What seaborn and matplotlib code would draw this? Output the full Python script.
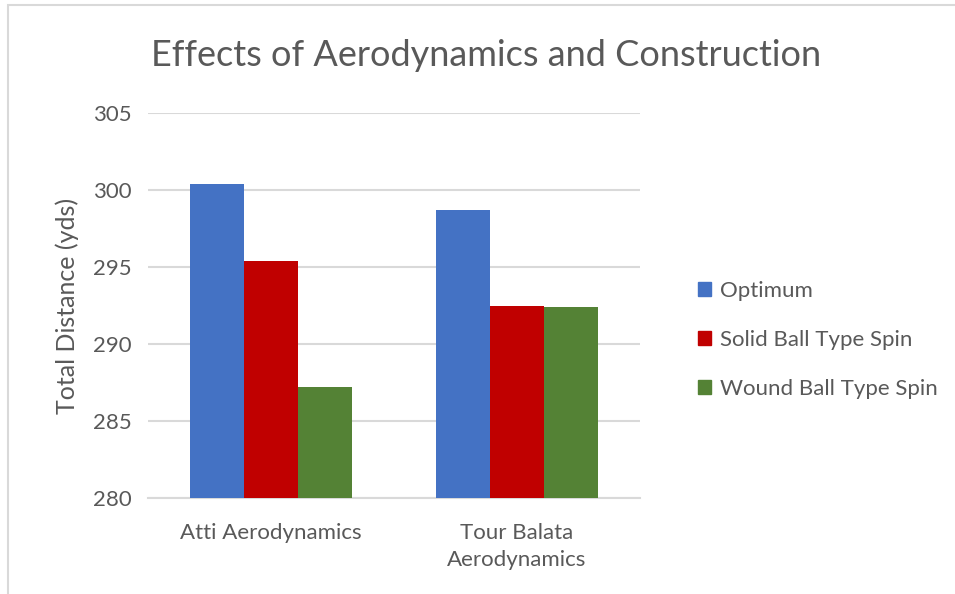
import seaborn as sns
import matplotlib.pyplot as plt
import matplotlib.patches as mpatches
import pandas as pd

categories = ['Atti Aerodynamics', 'Tour Balata\nAerodynamics']
series = ['Optimum', 'Solid Ball Type Spin', 'Wound Ball Type Spin']
optimum = [300.4, 298.7]
solid_spin = [295.4, 292.5]
wound_spin = [287.2, 292.4]
colors = ['#4472c4', '#c00000', '#548235']

rows = []
for name, vals in zip(series, [optimum, solid_spin, wound_spin]):
    for cat, v in zip(categories, vals):
        rows.append({'category': cat, 'series': name, 'distance': v})
df = pd.DataFrame(rows)

sns.set_style('white')
plt.rcParams['font.family'] = ['Lato', 'DejaVu Sans']
gray = '#595959'

fig = plt.figure(figsize=(9.55, 5.94), dpi=100)
ax = fig.add_axes([148/955, 1 - 498/594, (640-148)/955, (498-113)/594])

sns.barplot(data=df, x='category', y='distance', hue='series', palette=colors,
            width=0.66, gap=0, saturation=1, ax=ax, legend=False, zorder=3,
            linewidth=0, edgecolor='none')

ax.set_ylim(280, 305)
ax.set_yticks([280, 285, 290, 295, 300, 305])
ax.set_xlim(-0.5, 1.5)
ax.yaxis.grid(True, color='#d9d9d9', linewidth=1.5, zorder=0)
ax.set_axisbelow(True)
for s in ['top', 'right', 'left']:
    ax.spines[s].set_visible(False)
ax.spines['bottom'].set_color('#d9d9d9')
ax.spines['bottom'].set_linewidth(1.5)

ax.tick_params(axis='y', length=0, pad=12, labelsize=16, labelcolor=gray)
ax.tick_params(axis='x', which='major', length=0, pad=18, labelsize=16, labelcolor=gray)
for lbl in ax.get_xticklabels():
    lbl.set_linespacing(1.45)
    lbl.set_va('top')
ax.set_xticks([-0.5, 0.5, 1.5], minor=True)
ax.tick_params(axis='x', which='minor', length=8, width=1.5, color='#d9d9d9')
ax.set_xlabel('')
ax.set_ylabel('Total Distance (yds)', fontsize=18, color=gray, labelpad=10)

fig.text(486/955, 1 - 55/594, 'Effects of Aerodynamics and Construction',
         fontsize=26, color=gray, ha='center', va='center')

handles = [mpatches.Patch(color=c, label=l) for c, l in zip(colors, series)]
fig.legend(handles=handles, loc='center left', bbox_to_anchor=(678/955, 1 - 340/594),
           frameon=False, fontsize=16, labelcolor=gray, handlelength=0.6,
           handleheight=0.6, handletextpad=0.4, labelspacing=1.3)

fig.patches.append(mpatches.Rectangle((8/955, -0.1), 2, 1 - 5/594 + 0.1,
                                      transform=fig.transFigure, fill=False,
                                      edgecolor='#d9d9d9', linewidth=1.5))

fig.savefig('out.png', dpi=100)
